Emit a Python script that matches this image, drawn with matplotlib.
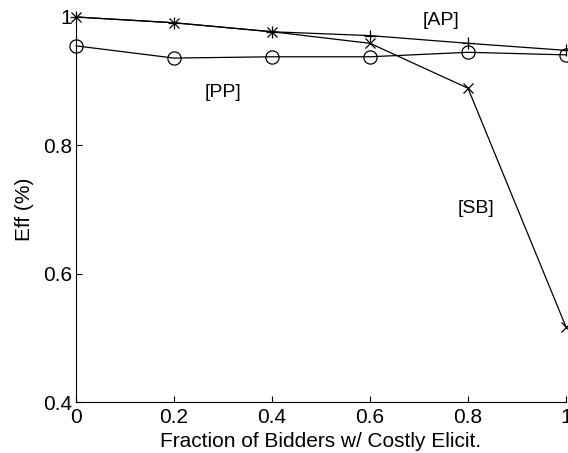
import numpy as np
import matplotlib.pyplot as plt

plt.rcParams['font.family'] = ['Liberation Sans', 'DejaVu Sans']

# fraction of bidders with costly elicitation
frac = [0, 0.2, 0.4, 0.6, 0.8, 1.0]
effAP = [1.0, 0.991, 0.977, 0.971, 0.959, 0.948]
effSB = [1.0, 0.991, 0.977, 0.959, 0.889, 0.517]
effPP = [0.955, 0.936, 0.938, 0.938, 0.945, 0.941]


def main():
    fig = plt.figure(figsize=(5.68, 4.53), dpi=100)
    ax = fig.add_axes([76 / 568, 51 / 453, 490 / 568, 385 / 453])

    ax.plot(frac, effAP, color='black', lw=0.9, marker='+', ms=9, mew=0.9)
    ax.plot(frac, effSB, color='black', lw=0.9, marker='x', ms=7, mew=0.9)
    ax.plot(frac, effPP, color='black', lw=0.9, marker='o', ms=9.5, mew=0.9,
            mfc='none')
    for l in ax.get_lines():
        l.set_clip_on(False)

    ax.text(0.708, 0.9875, '[AP]', fontsize=14, va='baseline')
    ax.text(0.263, 0.875, '[PP]', fontsize=14, va='baseline')
    ax.text(0.778, 0.6945, '[SB]', fontsize=14, va='baseline')

    ax.set_xlim(0, 1)
    ax.set_ylim(0.4, 1)
    ax.set_xticks([0, 0.2, 0.4, 0.6, 0.8, 1])
    ax.set_xticklabels(['0', '0.2', '0.4', '0.6', '0.8', '1'])
    ax.set_yticks([0.4, 0.6, 0.8, 1])
    ax.set_yticklabels(['0.4', '0.6', '0.8', '1'])
    ax.tick_params(direction='in', length=4, labelsize=15)
    ax.tick_params(axis='x', pad=4)
    ax.tick_params(axis='y', pad=3)

    ax.spines['top'].set_visible(False)
    ax.spines['right'].set_visible(False)

    ax.set_xlabel('Fraction of Bidders w/ Costly Elicit.', fontsize=15, labelpad=4)
    ax.set_ylabel('Eff (%)', fontsize=15, labelpad=6)

    plt.savefig('out.png', dpi=100)


main()
